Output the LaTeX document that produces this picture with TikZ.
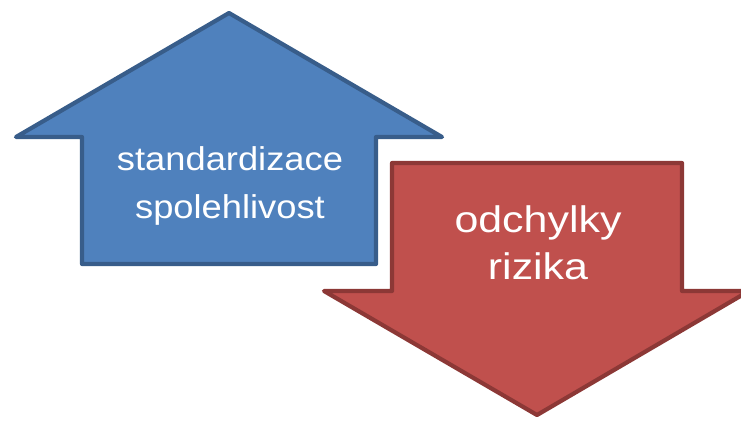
\documentclass[tikz,border=0pt]{standalone}
\usepackage{fontspec}
\newfontfamily\upfont[FakeStretch=1.1]{Liberation Sans}
\newfontfamily\downfont[FakeStretch=1.16]{Liberation Sans}
\definecolor{upfill}{HTML}{4F81BD}
\definecolor{updraw}{HTML}{385D8A}
\definecolor{downfill}{HTML}{C0504D}
\definecolor{downdraw}{HTML}{8C3836}
\tikzset{
  blockarrow/.style={line width=4.2pt, line join=round},
  uparrow/.style={blockarrow, fill=upfill, draw=updraw},
  downarrow/.style={blockarrow, fill=downfill, draw=downdraw},
  arrowtext/.style={text=white, align=center, inner sep=0pt, anchor=base},
}
\begin{document}
\begin{tikzpicture}[x=1pt, y=-1pt]
  \useasboundingbox (0,0) rectangle (741,421);
  \clip (0,0) rectangle (741,421);
  % upward block arrow
  \filldraw[uparrow] (229,13) -- (442,137) -- (376,137) -- (376,264)
    -- (82,264) -- (82,137) -- (16,137) -- cycle;
  % downward block arrow (its right wing runs past the edge)
  \filldraw[downarrow] (392,163) -- (682,163) -- (682,291) -- (749,291)
    -- (537,415) -- (324,291) -- (392,291) -- cycle;
  % the base anchor sits on the last line's baseline
  \node[arrowtext, font=\upfont\fontsize{33}{48}\selectfont] (uptext)
    at (230,218.5) {standardizace\\spolehlivost};
  \node[arrowtext, font=\downfont\fontsize{37}{47}\selectfont] (downtext)
    at (538,279.5) {odchylky\\rizika};
\end{tikzpicture}
\end{document}
